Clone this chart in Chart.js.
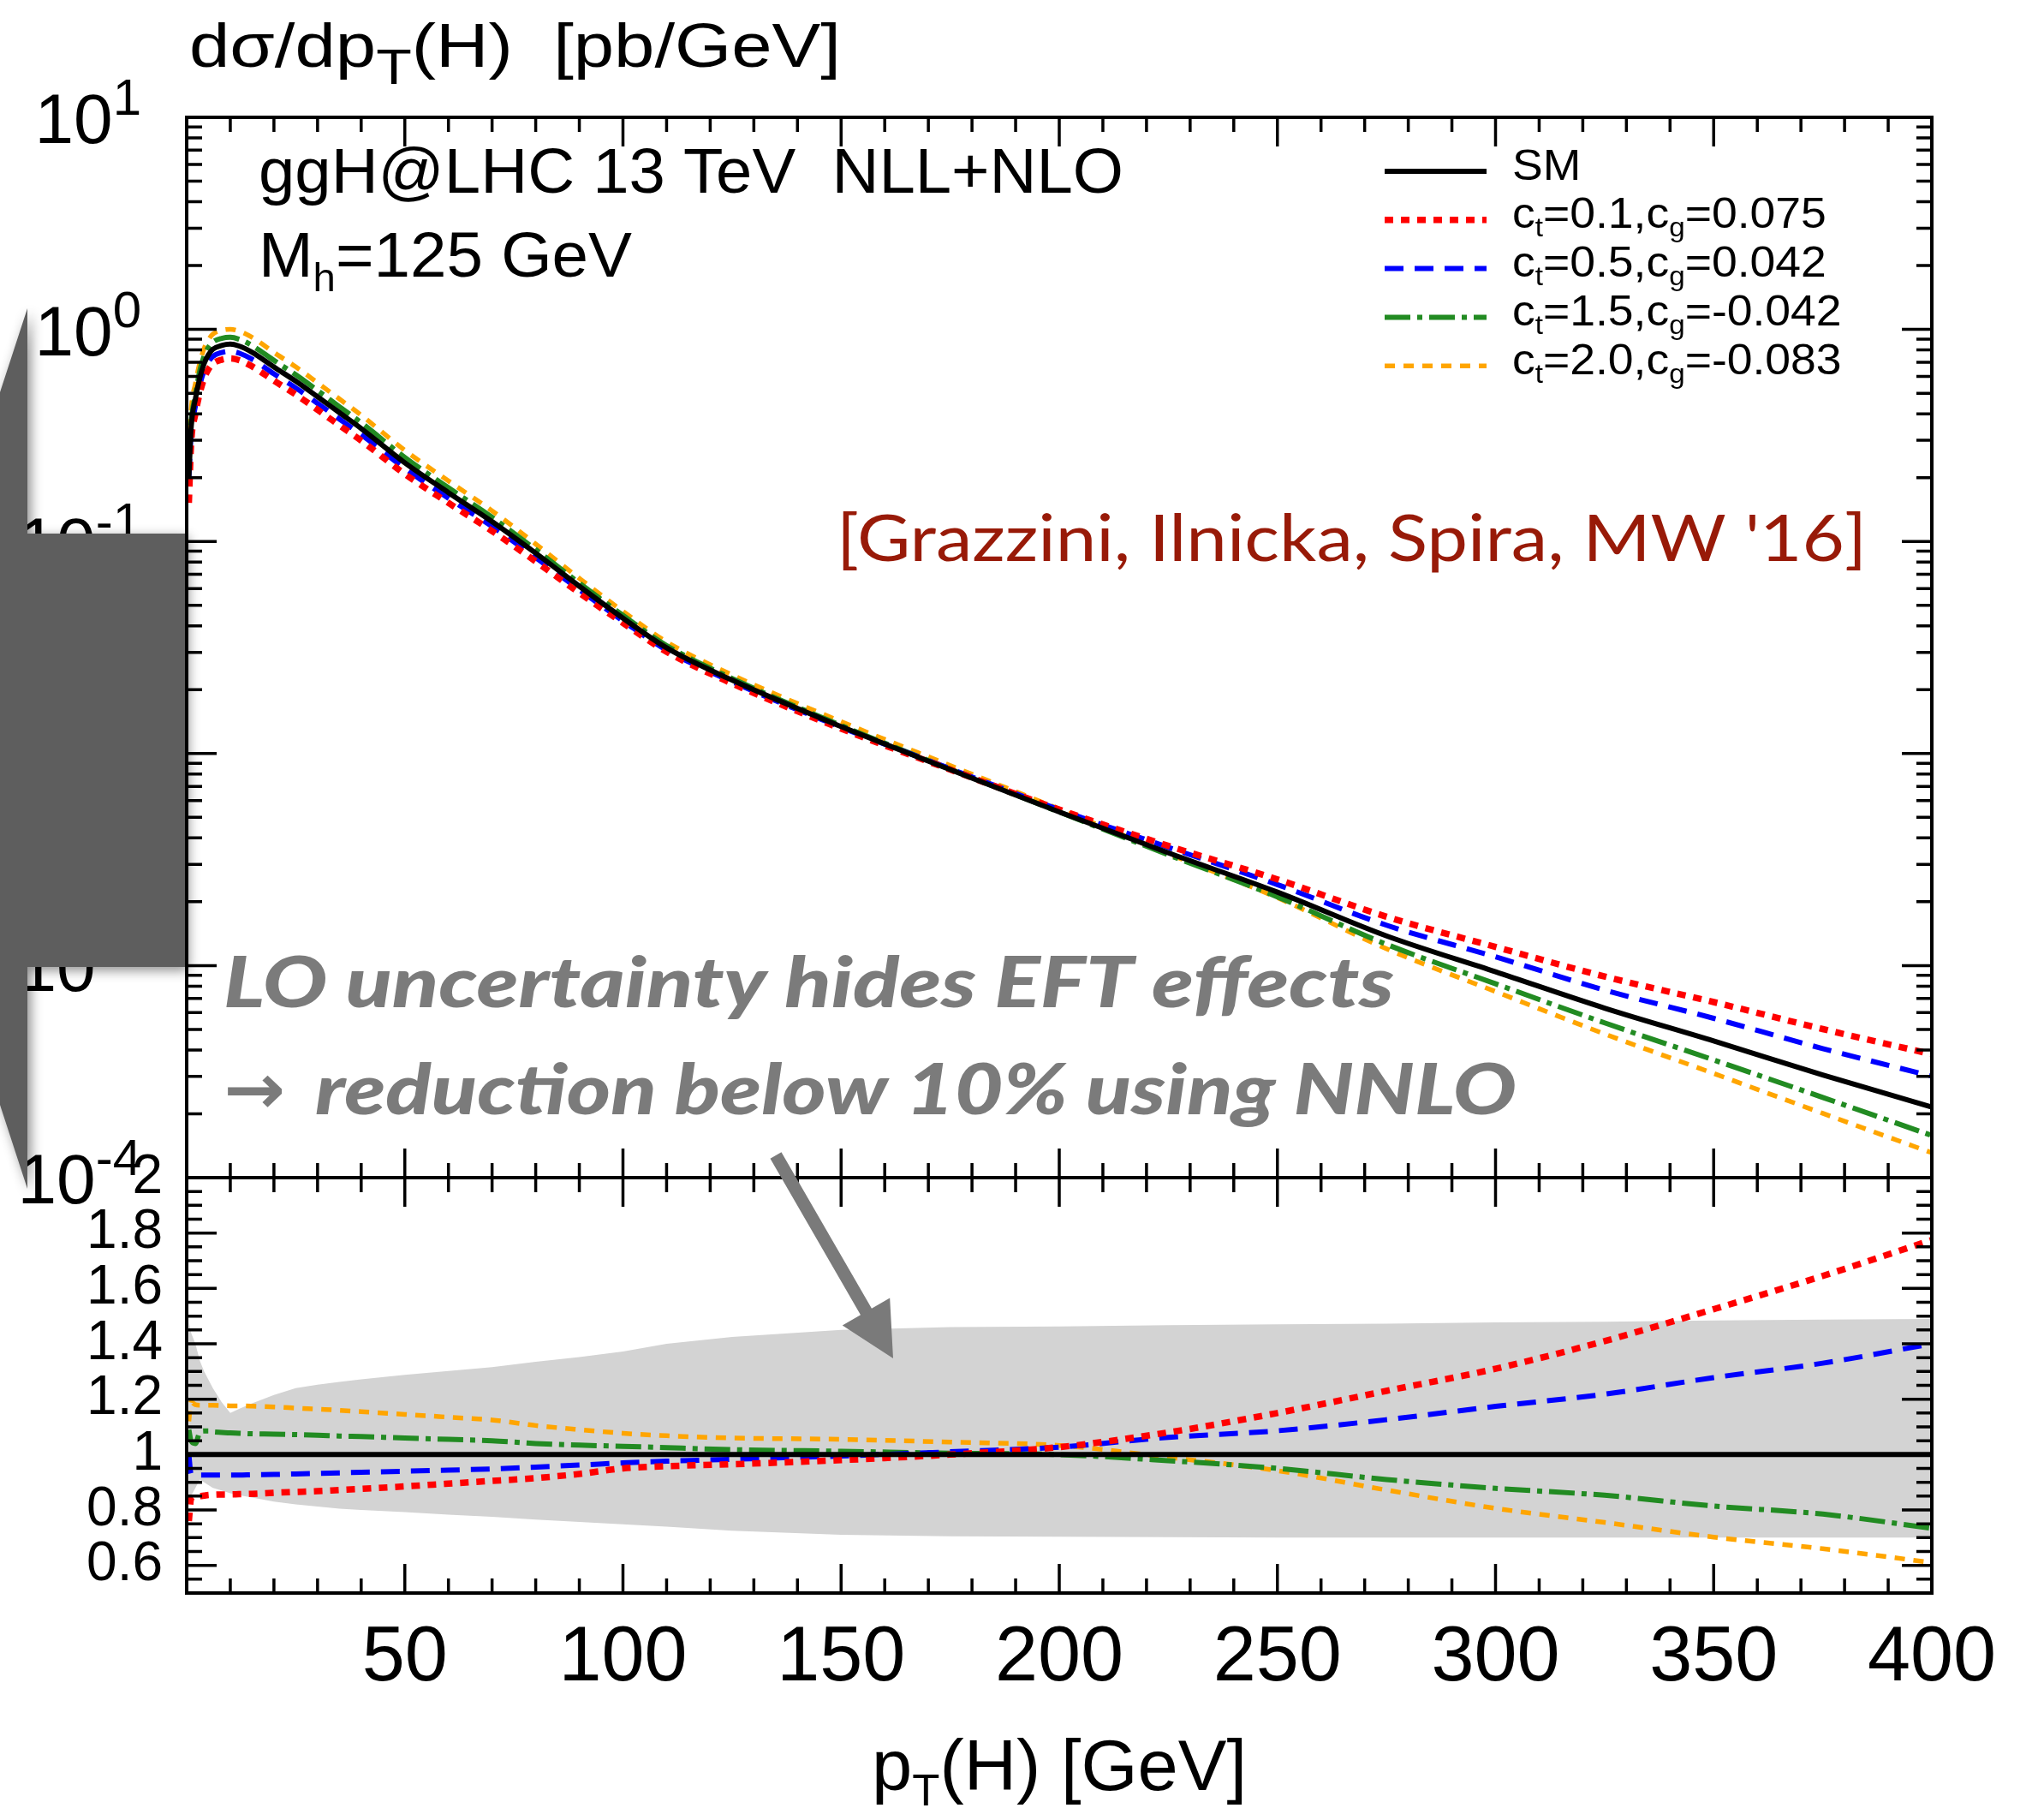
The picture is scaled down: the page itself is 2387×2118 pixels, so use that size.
<!DOCTYPE html>
<html>
<head>
<meta charset="utf-8">
<script src="https://cdn.jsdelivr.net/npm/chart.js@4.4.1/dist/chart.umd.min.js"></script>
<style>
  html, body { margin: 0; padding: 0; background: #fff; }
  #wrap { position: relative; width: 2387px; height: 2118px; }
  canvas { position: absolute; left: 0; top: 0; }
</style>
</head>
<body>
<div id="wrap">
  <canvas id="top" width="2387" height="2118"></canvas>
  <canvas id="ratio" width="2387" height="2118"></canvas>
</div>
<script>
// ── Data ──────────────────────────────────────────────────────────────────────
const PT = [0.5, 1, 2, 3, 4, 5, 6, 8, 10, 12, 15, 20, 25, 30, 35, 40, 50, 60, 70, 80, 90,
  100, 110, 125, 150, 175, 200, 225, 250, 275, 300, 325, 350, 375, 400]

// dσ/dpT [pb/GeV]
const SM_TOP = [0.20, 0.34, 0.47, 0.59, 0.69, 0.76, 0.806, 0.84, 0.852, 0.835, 0.78, 0.665, 0.57, 0.481,
  0.405, 0.341, 0.235, 0.170, 0.124, 0.088, 0.0615, 0.0435, 0.0315, 0.0222, 0.0134, 0.0084, 0.0053,
  0.0034, 0.00222, 0.00138, 0.000935, 0.00063, 0.000441, 0.000305, 0.000215]
const CT01_TOP = [0.152, 0.286, 0.40, 0.50, 0.588, 0.649, 0.689, 0.719, 0.729, 0.716, 0.669, 0.573, 0.493,
  0.418, 0.353, 0.299, 0.208, 0.152, 0.112, 0.0805, 0.0572, 0.0413, 0.0302, 0.0214, 0.0131, 0.0084,
  0.00544, 0.00367, 0.00255, 0.0017, 0.001225, 0.000888, 0.000673, 0.000502, 0.000382]
const CT05_TOP = [0.20, 0.316, 0.435, 0.546, 0.639, 0.704, 0.746, 0.778, 0.789, 0.773, 0.723, 0.617, 0.530,
  0.448, 0.378, 0.319, 0.221, 0.160, 0.1176, 0.084, 0.0592, 0.0422, 0.0307, 0.0218, 0.0133, 0.00848,
  0.00544, 0.00361, 0.00241, 0.00155, 0.0011, 0.000767, 0.000564, 0.000406, 0.000301]
const CT15_TOP = [0.218, 0.357, 0.489, 0.637, 0.749, 0.825, 0.872, 0.907, 0.918, 0.899, 0.839, 0.714, 0.611,
  0.515, 0.432, 0.363, 0.249, 0.179, 0.130, 0.0915, 0.0636, 0.0448, 0.0323, 0.0226, 0.01356, 0.00844,
  0.0053, 0.00333, 0.00211, 0.00126, 0.000821, 0.000537, 0.000359, 0.000239, 0.000158]
const CT20_TOP = [0.224, 0.405, 0.555, 0.695, 0.813, 0.895, 0.949, 0.989, 1.002, 0.982, 0.917, 0.779, 0.666,
  0.560, 0.470, 0.394, 0.269, 0.193, 0.1395, 0.0972, 0.0670, 0.0468, 0.0336, 0.0235, 0.01414, 0.00878,
  0.00547, 0.00337, 0.00209, 0.0012, 0.000754, 0.000476, 0.00031, 0.000201, 0.000131]

// ratio to SM
const CT01_RATIO = [0.76, 0.84, 0.85, 0.85, 0.852, 0.854, 0.855, 0.856, 0.856, 0.857, 0.858, 0.862, 0.865,
  0.868, 0.872, 0.876, 0.885, 0.895, 0.905, 0.915, 0.93, 0.95, 0.958, 0.965, 0.98, 1.0, 1.027, 1.08,
  1.15, 1.23, 1.31, 1.41, 1.525, 1.645, 1.775]
const CT05_RATIO = [1.0, 0.93, 0.925, 0.926, 0.926, 0.926, 0.926, 0.926, 0.926, 0.926, 0.927, 0.928, 0.93,
  0.932, 0.934, 0.936, 0.94, 0.944, 0.948, 0.955, 0.962, 0.97, 0.976, 0.983, 0.995, 1.01, 1.027, 1.062,
  1.086, 1.126, 1.174, 1.218, 1.278, 1.33, 1.40]
const CT15_RATIO = [1.09, 1.05, 1.04, 1.08, 1.085, 1.085, 1.082, 1.08, 1.078, 1.077, 1.075, 1.074, 1.072,
  1.07, 1.067, 1.065, 1.06, 1.055, 1.05, 1.04, 1.034, 1.03, 1.025, 1.018, 1.012, 1.005, 1.0, 0.978,
  0.95, 0.91, 0.878, 0.853, 0.814, 0.785, 0.734]
const CT20_RATIO = [1.12, 1.19, 1.18, 1.178, 1.178, 1.178, 1.178, 1.177, 1.176, 1.176, 1.175, 1.172, 1.168,
  1.164, 1.16, 1.155, 1.145, 1.135, 1.125, 1.105, 1.09, 1.077, 1.068, 1.06, 1.055, 1.045, 1.033, 0.99,
  0.942, 0.872, 0.806, 0.755, 0.702, 0.66, 0.61]
const SM_RATIO_X = [0, 400]
const SM_RATIO = [1, 1]

// LO scale uncertainty band
const BAND_UP = [1.48, 1.44, 1.40, 1.34, 1.30, 1.27, 1.24, 1.19, 1.15, 1.165, 1.185, 1.215, 1.24, 1.252,
  1.262, 1.272, 1.288, 1.302, 1.316, 1.335, 1.352, 1.372, 1.40, 1.425, 1.45, 1.46, 1.463, 1.467, 1.47,
  1.473, 1.477, 1.48, 1.484, 1.487, 1.49]
const BAND_LO = [0.84, 0.85, 0.88, 0.91, 0.90, 0.89, 0.88, 0.87, 0.86, 0.853, 0.845, 0.83, 0.82, 0.812,
  0.805, 0.80, 0.792, 0.783, 0.775, 0.765, 0.757, 0.748, 0.74, 0.725, 0.71, 0.705, 0.703, 0.702, 0.70,
  0.70, 0.70, 0.70, 0.70, 0.70, 0.70]

const X_LABELS = [50, 100, 150, 200, 250, 300, 350, 400]
const RATIO_LABELS = [0.6, 0.8, 1, 1.2, 1.4, 1.6, 1.8, 2]
const LOG_EXPONENTS = [1, 0, -1, -2, -3, -4]

// ── Styles ────────────────────────────────────────────────────────────────────
const FONT = "'Liberation Sans', Arial, sans-serif"
const HUMANIST = "Lato, 'Open Sans', sans-serif"

const SERIES = [
  { key: 'sm', color: '#000000', dash: [], width: 6,
    legend: [['SM']] },
  { key: 'ct01', color: '#ff0000', dash: [10, 9], width: 7.5,
    legend: [['c'], ['t', 1], ['=0.1,c'], ['g', 1], ['=0.075']] },
  { key: 'ct05', color: '#0000ff', dash: [22, 13], width: 6,
    legend: [['c'], ['t', 1], ['=0.5,c'], ['g', 1], ['=0.042']] },
  { key: 'ct15', color: '#228b22', dash: [30, 8, 6, 8], width: 6,
    legend: [['c'], ['t', 1], ['=1.5,c'], ['g', 1], ['=-0.042']] },
  { key: 'ct20', color: '#ffa500', dash: [12, 10], width: 5.5,
    legend: [['c'], ['t', 1], ['=2.0,c'], ['g', 1], ['=-0.083']] }
]
const TOP_VALUES = { sm: SM_TOP, ct01: CT01_TOP, ct05: CT05_TOP, ct15: CT15_TOP, ct20: CT20_TOP }
const RATIO_VALUES = { ct01: CT01_RATIO, ct05: CT05_RATIO, ct15: CT15_RATIO, ct20: CT20_RATIO }

const pts = (xs, ys) => xs.map((x, i) => ({ x, y: ys[i] }))

// ── Text helper (sub-scripts, optional width fit) ─────────────────────────────
function drawRich(ctx, parts, x, y, o) {
  const fam = o.family || FONT
  const pre = o.style || ''
  const fontFor = sub => `${pre}${sub ? o.size * o.subScale : o.size}px ${fam}`
  let nat = 0
  parts.forEach(([t, sub]) => { ctx.font = fontFor(sub); nat += ctx.measureText(t).width })
  const sx = o.width ? o.width / nat : (o.sx || 1)
  ctx.save()
  ctx.translate(x, y)
  ctx.scale(sx, 1)
  ctx.fillStyle = o.color || '#000'
  ctx.textBaseline = 'alphabetic'
  ctx.textAlign = 'left'
  let cx = 0
  parts.forEach(([t, sub]) => {
    ctx.font = fontFor(sub)
    ctx.fillText(t, cx, sub ? o.size * o.subDrop : 0)
    cx += ctx.measureText(t).width
  })
  ctx.restore()
}

// ── Frame with inward ticks on all four sides ─────────────────────────────────
function drawFrame(chart, yTicks) {
  const { ctx, chartArea: a, scales: { x, y } } = chart
  ctx.save()
  ctx.strokeStyle = '#000'
  ctx.lineWidth = 3.5
  ctx.beginPath()
  for (let v = 10; v < 400; v += 10) {
    const px = x.getPixelForValue(v)
    const len = v % 50 === 0 ? 34 : 17
    ctx.moveTo(px, a.top); ctx.lineTo(px, a.top + len)
    ctx.moveTo(px, a.bottom); ctx.lineTo(px, a.bottom - len)
  }
  yTicks.forEach(([v, major]) => {
    const py = y.getPixelForValue(v)
    const len = major ? 35 : 18
    ctx.moveTo(a.left, py); ctx.lineTo(a.left + len, py)
    ctx.moveTo(a.right, py); ctx.lineTo(a.right - len, py)
  })
  ctx.stroke()
  ctx.lineWidth = 4
  ctx.strokeRect(a.left, a.top, a.right - a.left, a.bottom - a.top)
  ctx.restore()
}

const logTicks = []
for (let e = -4; e <= 0; e++) {
  for (let m = 1; m <= 9; m++) logTicks.push([m * Math.pow(10, e), m === 1])
}
const ratioTicks = []
for (let i = 11; i <= 39; i++) ratioTicks.push([i * 0.05, i % 4 === 0])

// ── Top panel decorations ─────────────────────────────────────────────────────
const topDecor = {
  id: 'topDecor',
  afterDraw(chart) {
    const { ctx, scales: { y } } = chart
    drawFrame(chart, logTicks)

    // log labels 10^n
    ctx.save()
    ctx.fillStyle = '#000'
    ctx.textBaseline = 'alphabetic'
    LOG_EXPONENTS.forEach(e => {
      const py = y.getPixelForValue(Math.pow(10, e))
      ctx.font = `60px ${FONT}`
      const we = ctx.measureText(String(e)).width
      ctx.font = `82px ${FONT}`
      const wm = ctx.measureText('10').width
      const x0 = 165 - we - wm
      ctx.fillText('10', x0, py + 30)
      ctx.font = `60px ${FONT}`
      ctx.fillText(String(e), x0 + wm, py - 3)
    })
    ctx.restore()

    // axis title
    drawRich(ctx, [['dσ/dp'], ['T', 1], ['(H)  [pb/GeV]']], 221, 78,
      { size: 72, subScale: 0.8, subDrop: 0.28, width: 761 })

    // process info
    drawRich(ctx, [['ggH@LHC 13 TeV  NLL+NLO']], 302, 225, { size: 74, width: 1010 })
    drawRich(ctx, [['M'], ['h', 1], ['=125 GeV']], 302, 323,
      { size: 74, subScale: 0.62, subDrop: 0.23, width: 436 })

    // legend
    ctx.save()
    SERIES.forEach((s, i) => {
      const ly = 200 + i * 56.8
      ctx.strokeStyle = s.color
      ctx.lineWidth = s.width
      ctx.setLineDash(s.dash)
      ctx.beginPath()
      ctx.moveTo(1617, ly); ctx.lineTo(1736, ly)
      ctx.stroke()
      drawRich(ctx, s.legend, 1766, ly + 9.5,
        { size: 50, subScale: 0.62, subDrop: 0.2, sx: 1.07 })
    })
    ctx.restore()

    // citation
    drawRich(ctx, [["[Grazzini, Ilnicka, Spira, MW '16]"]], 977, 655,
      { size: 76, family: HUMANIST, width: 1203, color: '#981a08' })
  }
}

// ── Ratio panel decorations + slide annotations ───────────────────────────────
const ratioDecor = {
  id: 'ratioDecor',
  afterDraw(chart) {
    const { ctx } = chart
    drawFrame(chart, ratioTicks)

    drawRich(ctx, [['p'], ['T', 1], ['(H) [GeV]']], 1018, 2090,
      { size: 83, subScale: 0.62, subDrop: 0.22, width: 438 })

    // big block arrow on the left
    ctx.save()
    ctx.fillStyle = '#5e5e5e'
    ctx.shadowColor = 'rgba(0,0,0,0.45)'
    ctx.shadowBlur = 14
    ctx.shadowOffsetX = 4
    ctx.shadowOffsetY = 4
    ctx.beginPath()
    ctx.moveTo(-136, 874)
    ctx.lineTo(32, 360)
    ctx.lineTo(32, 623)
    ctx.lineTo(216, 623)
    ctx.lineTo(216, 1129)
    ctx.lineTo(32, 1129)
    ctx.lineTo(32, 1388)
    ctx.closePath()
    ctx.fill()
    ctx.restore()

    // small arrow pointing at the band
    const sx0 = 906, sy0 = 1349, tx = 1043, ty = 1586
    const L = Math.hypot(tx - sx0, ty - sy0)
    const ux = (tx - sx0) / L, uy = (ty - sy0) / L
    const nx = -uy, ny = ux
    const hl = 63, hw = 32, sw = 7.5
    const bx = tx - ux * hl, by = ty - uy * hl
    ctx.save()
    ctx.fillStyle = '#7a7a7a'
    ctx.beginPath()
    ctx.moveTo(sx0 + nx * sw, sy0 + ny * sw)
    ctx.lineTo(bx + nx * sw, by + ny * sw)
    ctx.lineTo(bx + nx * hw, by + ny * hw)
    ctx.lineTo(tx, ty)
    ctx.lineTo(bx - nx * hw, by - ny * hw)
    ctx.lineTo(bx - nx * sw, by - ny * sw)
    ctx.lineTo(sx0 - nx * sw, sy0 - ny * sw)
    ctx.closePath()
    ctx.fill()
    ctx.restore()

    // grey comment
    const grey = '#7b7b7b'
    drawRich(ctx, [['LO uncertainty hides EFT effects']], 261, 1176,
      { size: 82, family: HUMANIST, style: 'italic 900 ', width: 1367, color: grey })
    drawRich(ctx, [['→']], 261, 1300,
      { size: 82, family: "'DejaVu Sans'", style: 'bold ', width: 72, color: grey })
    drawRich(ctx, [['reduction below 10% using NNLO']], 368, 1301,
      { size: 82, family: HUMANIST, style: 'italic 900 ', width: 1403, color: grey })
  }
}

// ── Charts ────────────────────────────────────────────────────────────────────
const lineStyle = s => ({
  borderColor: s.color,
  borderWidth: s.width,
  borderDash: s.dash,
  pointRadius: 0,
  fill: false,
  cubicInterpolationMode: 'monotone'
})

new Chart(document.getElementById('top').getContext('2d'), {
  type: 'line',
  data: {
    datasets: SERIES.map((s, i) => ({
      label: s.key,
      data: pts(PT, TOP_VALUES[s.key]),
      order: i,
      ...lineStyle(s)
    }))
  },
  options: {
    responsive: false,
    animation: false,
    devicePixelRatio: 1,
    events: [],
    layout: { padding: { left: 218, right: 131, top: 137, bottom: 743 } },
    scales: {
      x: { type: 'linear', min: 0, max: 400, display: false },
      y: { type: 'logarithmic', min: 1e-4, max: 10, display: false }
    },
    plugins: { legend: { display: false }, tooltip: { enabled: false } }
  },
  plugins: [topDecor]
})

const ratioDatasets = [
  { label: 'band-up', data: pts(PT, BAND_UP), borderColor: 'rgba(0,0,0,0)', borderWidth: 1,
    pointRadius: 0, fill: false, order: 20 },
  { label: 'band-lo', data: pts(PT, BAND_LO), borderColor: 'rgba(0,0,0,0)', borderWidth: 1,
    pointRadius: 0, fill: '-1', backgroundColor: '#d3d3d3', order: 19 },
  { label: 'sm', data: pts(SM_RATIO_X, SM_RATIO), order: 0, ...lineStyle(SERIES[0]) },
  ...SERIES.slice(1).map((s, i) => ({
    label: s.key, data: pts(PT, RATIO_VALUES[s.key]), order: i + 1, ...lineStyle(s)
  }))
]

new Chart(document.getElementById('ratio').getContext('2d'), {
  type: 'line',
  data: { datasets: ratioDatasets },
  options: {
    responsive: false,
    animation: false,
    devicePixelRatio: 1,
    events: [],
    layout: { padding: { left: 0, right: 131, top: 1375, bottom: 0 } },
    scales: {
      x: {
        type: 'linear', min: 0, max: 400,
        afterBuildTicks: s => { s.ticks = X_LABELS.map(v => ({ value: v })) },
        ticks: { font: { family: FONT, size: 90 }, color: '#000', padding: 23,
          maxRotation: 0, minRotation: 0, autoSkip: false },
        grid: { display: false, drawTicks: false },
        border: { display: false },
        afterFit: s => { s.height = 258 }
      },
      y: {
        type: 'linear', min: 0.5, max: 2,
        afterBuildTicks: s => { s.ticks = RATIO_LABELS.map(v => ({ value: v })) },
        ticks: { font: { family: FONT, size: 64 }, color: '#000', padding: 28, autoSkip: false,
          callback: v => Number.isInteger(v) ? String(v) : v.toFixed(1) },
        grid: { display: false, drawTicks: false },
        border: { display: false },
        afterFit: s => { s.width = 218 }
      }
    },
    plugins: { legend: { display: false }, tooltip: { enabled: false } }
  },
  plugins: [ratioDecor]
})
</script>
</body>
</html>
